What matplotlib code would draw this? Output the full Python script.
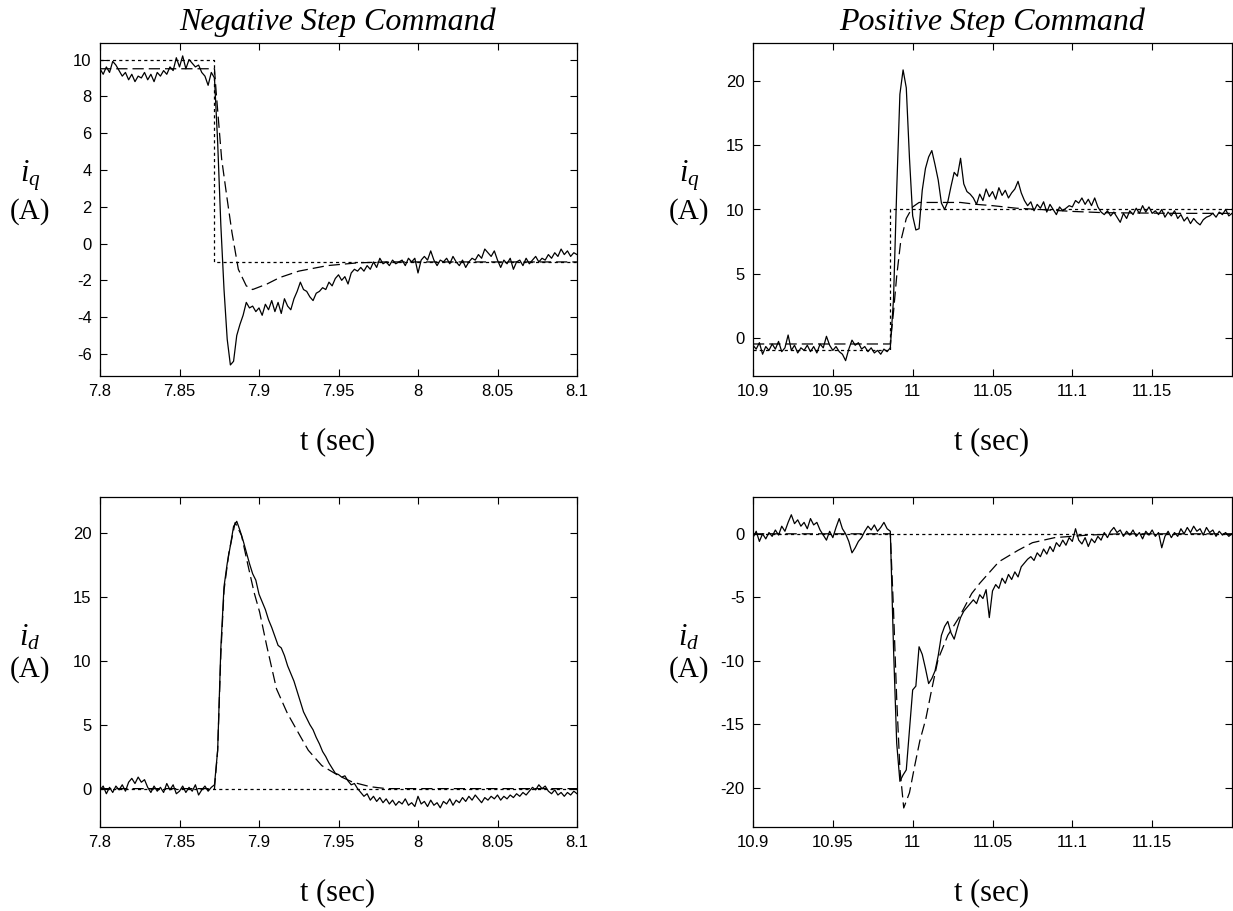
import numpy as np
import matplotlib
matplotlib.use("Agg")
import matplotlib.pyplot as plt

plt.rcParams["font.family"] = ["Liberation Sans", "DejaVu Sans"]
plt.rcParams["mathtext.fontset"] = "custom"
plt.rcParams["mathtext.rm"] = "Liberation Serif"
plt.rcParams["mathtext.it"] = "Liberation Serif:italic"

W, H = 1233, 911
DT = 0.002  # sample spacing of the measured traces (s)

# ---- negative step command (t = 7.8 ... 8.1) ----
neg_t0 = 7.8
neg_iq_meas = [
    9.5, 9.2, 9.6, 9.3, 9.9, 9.7, 9.4, 9.1, 9.3, 8.9,
    9.2, 8.8, 9.1, 9.0, 9.3, 8.9, 9.2, 8.8, 9.3, 9.1,
    9.4, 9.2, 9.6, 9.4, 10.1, 9.6, 10.2, 9.5, 10.0, 9.8,
    9.6, 9.7, 9.3, 9.1, 8.6, 9.3, 9.0, 5.5, 1.0, -2.5,
    -5.2, -6.6, -6.4, -5.0, -4.4, -3.9, -3.2, -3.5, -3.4, -3.7,
    -3.5, -3.9, -3.3, -3.6, -3.1, -3.7, -3.2, -3.8, -3.0, -3.4,
    -3.6, -3.0, -2.6, -2.1, -2.5, -2.6, -2.9, -3.1, -2.7, -2.6,
    -2.4, -2.5, -2.1, -2.3, -1.9, -1.7, -2.0, -1.8, -2.2, -1.6,
    -1.4, -1.5, -1.3, -1.5, -1.2, -1.4, -1.0, -1.3, -0.8, -1.1,
    -1.0, -1.2, -0.9, -1.1, -1.0, -0.9, -1.2, -0.8, -1.0, -0.8,
    -1.6, -0.9, -0.7, -0.9, -0.4, -0.9, -1.2, -0.9, -1.0, -0.8,
    -1.1, -0.7, -1.0, -1.2, -0.9, -1.3, -1.0, -0.8, -0.9, -0.6,
    -0.8, -0.3, -0.5, -0.7, -0.4, -0.9, -1.3, -0.9, -1.1, -0.8,
    -1.4, -1.0, -0.9, -1.2, -0.8, -1.1, -0.9, -0.7, -1.0, -0.8,
    -0.9, -0.6, -0.8, -0.5, -0.7, -0.3, -0.6, -0.4, -0.7, -0.5,
    -0.6,
]
neg_iq_cmd_t = [7.8, 7.872, 7.872, 8.1]
neg_iq_cmd = [10, 10, -1, -1]
neg_iq_model_t = [7.8, 7.872, 7.873, 7.8765, 7.880, 7.883, 7.887, 7.892, 7.896,
                  7.905, 7.913, 7.925, 7.943, 7.962, 7.98, 8.1]
neg_iq_model = [9.5, 9.5, 8.3, 4.6, 2.4, 0.6, -1.4, -2.3, -2.5,
                -2.2, -1.85, -1.5, -1.2, -1.05, -1.0, -1.0]

neg_id_meas = [
    -0.1, 0.2, -0.4, 0.1, -0.3, 0.2, -0.1, 0.3, -0.2, 0.5,
    0.8, 0.4, 0.9, 0.5, 0.7, 0.1, -0.3, 0.2, -0.2, 0.1,
    -0.3, 0.4, -0.1, 0.3, -0.4, -0.2, 0.2, -0.3, 0.1, -0.2,
    0.3, -0.5, -0.1, 0.2, -0.2, 0.1, 0.3, 3.0, 11.0, 15.8,
    17.6, 19.0, 20.5, 20.9, 20.2, 19.4, 18.5, 17.6, 16.8, 16.3,
    15.2, 14.6, 14.0, 13.2, 12.6, 11.9, 11.2, 11.0, 10.4, 9.6,
    9.0, 8.4, 7.6, 6.8, 6.0, 5.5, 5.0, 4.6, 4.0, 3.5,
    2.9, 2.5, 2.0, 1.6, 1.2, 1.1, 0.9, 1.0, 0.6, 0.3,
    0.4, 0.0, -0.3, -0.6, -0.4, -0.9, -0.6, -1.0, -0.7, -1.1,
    -0.8, -1.2, -0.9, -1.3, -1.0, -1.2, -0.8, -1.3, -1.1, -1.4,
    -0.6, -1.2, -1.0, -1.4, -0.9, -1.3, -1.1, -1.5, -1.0, -1.2,
    -0.8, -1.3, -0.9, -1.1, -0.7, -1.0, -0.6, -0.9, -0.5, -0.8,
    -1.1, -0.7, -0.9, -0.6, -0.8, -0.5, -0.9, -0.6, -0.8, -0.5,
    -0.7, -0.4, -0.6, -0.3, -0.5, -0.2, 0.1, -0.1, 0.3, 0.0,
    0.2, -0.2, -0.4, -0.1, -0.5, -0.3, -0.6, -0.3, -0.5, -0.2,
    -0.4,
]
neg_id_cmd_t = [7.8, 8.1]
neg_id_cmd = [0, 0]
neg_id_model_t = [7.8, 7.872, 7.874, 7.876, 7.878, 7.881, 7.885, 7.889, 7.893,
                  7.897, 7.9004, 7.9048, 7.911, 7.9178, 7.9264, 7.931, 7.9395,
                  7.9503, 7.959, 7.97, 7.98, 8.1]
neg_id_model = [0, 0, 3.0, 10.5, 15.5, 18.4, 20.8, 19.8, 17.5,
                15.3, 13.8, 11.2, 7.8, 5.9, 4.0, 3.0, 1.8,
                1.0, 0.5, 0.15, 0.0, 0.0]

# ---- positive step command (t = 10.9 ... 11.2) ----
pos_t0 = 10.9
pos_iq_meas = [
    -0.6, -0.9, -0.4, -1.3, -0.7, -1.0, -0.5, -0.9, -0.3, -1.1,
    -0.8, 0.2, -1.0, -0.6, -1.2, -0.8, -1.0, -0.6, -1.1, -0.7,
    -1.2, -0.5, -0.8, 0.1, -0.6, -1.0, -0.7, -1.1, -1.3, -1.8,
    -0.9, -0.2, -0.6, -0.4, -0.9, -0.7, -1.1, -0.8, -1.2, -1.0,
    -1.3, -0.9, -1.1, -0.8, 3.0, 11.5, 19.0, 20.9, 19.5, 14.0,
    9.5, 8.4, 8.5, 11.5, 13.2, 14.1, 14.6, 13.5, 12.3, 10.5,
    10.0, 10.6, 11.8, 12.9, 12.6, 14.0, 12.0, 11.4, 11.2, 10.9,
    10.4, 11.2, 10.7, 11.6, 11.0, 11.4, 10.8, 11.7, 11.1, 11.5,
    10.9, 11.3, 11.6, 12.2, 11.3, 10.7, 10.3, 10.6, 9.9, 10.4,
    10.1, 10.6, 9.8, 10.4, 10.0, 9.6, 10.2, 9.9, 10.1, 10.3,
    10.2, 10.7, 10.5, 10.9, 10.4, 10.8, 10.3, 10.9, 10.2, 9.8,
    9.6, 9.9, 9.5, 9.8, 9.4, 9.0, 9.7, 9.3, 9.9, 9.6,
    10.1, 9.7, 10.3, 9.8, 10.2, 9.7, 9.9, 9.6, 10.0, 9.4,
    9.8, 9.5, 9.9, 9.3, 9.6, 9.1, 9.4, 8.9, 9.3, 9.0,
    8.8, 9.2, 9.4, 9.5, 9.7, 9.4, 9.8, 9.6, 10.0, 9.5,
    9.7,
]
pos_iq_cmd_t = [10.9, 10.986, 10.986, 11.2]
pos_iq_cmd = [-1, -1, 10, 10]
pos_iq_model_t = [10.9, 10.986, 10.987, 10.988, 10.990, 10.9925, 10.996, 11.0,
                  11.004, 11.03, 11.04, 11.05, 11.065, 11.08, 11.1, 11.12,
                  11.165, 11.2]
pos_iq_model = [-0.5, -0.5, 0.8, 2.0, 4.8, 7.5, 9.3, 10.2,
                10.55, 10.55, 10.4, 10.3, 10.1, 10.0, 9.85, 9.75,
                9.7, 9.7]

pos_id_meas = [
    -0.3, 0.2, -0.6, 0.0, -0.4, 0.1, -0.2, 0.3, -0.1, 0.6,
    0.2, 0.9, 1.5, 0.8, 1.1, 0.6, 0.9, 0.4, 1.2, 0.7,
    0.9, 0.3, -0.1, -0.5, 0.2, -0.3, 0.5, 1.2, 0.4, 0.0,
    -0.6, -1.5, -1.1, -0.6, -0.3, 0.2, 0.6, 0.3, 0.7, 0.2,
    0.5, 0.9, 0.4, 0.2, -9.0, -16.5, -19.5, -19.0, -18.6, -15.5,
    -12.3, -12.0, -8.9, -9.5, -10.6, -11.8, -11.4, -10.8, -9.6, -8.0,
    -7.3, -6.9, -7.8, -8.3, -7.4, -6.6, -6.1, -5.8, -5.5, -5.2,
    -5.5, -4.8, -5.1, -4.4, -6.6, -4.5, -4.0, -4.3, -3.5, -3.9,
    -3.2, -3.6, -3.0, -3.4, -2.6, -2.3, -2.0, -1.8, -2.1, -1.5,
    -1.8, -1.2, -1.6, -1.0, -1.4, -0.7, -1.0, -0.5, -0.9, -0.3,
    -0.6, 0.4, -0.5, -0.8, -0.3, -1.0, -0.4, -0.7, -0.2, -0.5,
    0.1, -0.3, 0.2, 0.5, 0.1, 0.3, -0.2, 0.2, -0.1, 0.3,
    -0.2, 0.1, -0.4, 0.2, -0.1, 0.3, -0.2, 0.1, -1.1, -0.2,
    0.2, -0.3, 0.1, -0.2, 0.4, 0.0, 0.5, 0.1, 0.6, 0.2,
    0.4, -0.1, 0.5, 0.1, 0.3, -0.2, 0.2, -0.1, 0.1, -0.2,
    0.0,
]
pos_id_cmd_t = [10.9, 11.2]
pos_id_cmd = [0, 0]
pos_id_model_t = [10.9, 10.986, 10.988, 10.990, 10.992, 10.9944, 10.998, 11.0014,
                  11.0045, 11.0082, 11.0117, 11.0159, 11.022, 11.029, 11.037,
                  11.042, 11.054, 11.066, 11.075, 11.089, 11.11, 11.13, 11.2]
pos_id_model = [0, 0, -6.0, -13.0, -18.5, -21.6, -20.4, -18.2,
                -16.3, -14.6, -12.4, -9.9, -8.0, -6.6, -4.7,
                -3.9, -2.2, -1.3, -0.7, -0.3, -0.1, 0.0, 0.0]

neg_xticks = [7.8, 7.85, 7.9, 7.95, 8.0, 8.05, 8.1]
neg_xlabels = ["7.8", "7.85", "7.9", "7.95", "8", "8.05", "8.1"]
pos_xticks = [10.9, 10.95, 11.0, 11.05, 11.1, 11.15]
pos_xlabels = ["10.9", "10.95", "11", "11.05", "11.1", "11.15"]


def px_axes(fig, left, top, right, bottom):
    return fig.add_axes([left / W, 1 - bottom / H, (right - left) / W, (bottom - top) / H])


def draw_panel(ax, t0, meas, cmd_t, cmd, mod_t, mod, xlim, xticks, xlabels, ylim, yticks):
    tm = t0 + DT * np.arange(len(meas))
    ax.plot(cmd_t, cmd, color="k", lw=0.9, linestyle=(0, (2.5, 2.5)))
    ax.plot(mod_t, mod, color="k", lw=0.9, linestyle=(0, (9, 4)))
    ax.plot(tm, meas, color="k", lw=0.9)
    ax.set_xlim(*xlim)
    ax.set_ylim(*ylim)
    ax.set_xticks(xticks)
    ax.set_xticklabels(xlabels)
    ax.set_yticks(yticks)
    ax.set_yticklabels([f"{v:g}" for v in yticks])
    ax.tick_params(direction="in", top=True, right=True, length=5, width=0.8,
                   labelsize=12, pad=6, colors="k")
    for s in ax.spines.values():
        s.set_linewidth(0.9)


fig = plt.figure(figsize=(W / 100, H / 100), dpi=100)

ax_tl = px_axes(fig, 100, 43, 577, 376)
draw_panel(ax_tl, neg_t0, neg_iq_meas, neg_iq_cmd_t, neg_iq_cmd, neg_iq_model_t, neg_iq_model,
           (7.8, 8.1), neg_xticks, neg_xlabels, (-7.2, 10.9), [-6, -4, -2, 0, 2, 4, 6, 8, 10])

ax_tr = px_axes(fig, 753, 43, 1232, 376)
draw_panel(ax_tr, pos_t0, pos_iq_meas, pos_iq_cmd_t, pos_iq_cmd, pos_iq_model_t, pos_iq_model,
           (10.9, 11.2), pos_xticks, pos_xlabels, (-3.0, 23.0), [0, 5, 10, 15, 20])

ax_bl = px_axes(fig, 100, 497, 577, 827)
draw_panel(ax_bl, neg_t0, neg_id_meas, neg_id_cmd_t, neg_id_cmd, neg_id_model_t, neg_id_model,
           (7.8, 8.1), neg_xticks, neg_xlabels, (-3.0, 22.8), [0, 5, 10, 15, 20])

ax_br = px_axes(fig, 753, 497, 1232, 827)
draw_panel(ax_br, pos_t0, pos_id_meas, pos_id_cmd_t, pos_id_cmd, pos_id_model_t, pos_id_model,
           (10.9, 11.2), pos_xticks, pos_xlabels, (-23.1, 2.9), [-20, -15, -10, -5, 0])

serif = ["Liberation Serif", "DejaVu Serif"]


def ftext(x, y, s, **kw):
    fig.text(x / W, 1 - y / H, s, ha="center", **kw)


ftext(338, 30, "Negative Step Command", va="baseline", fontsize=23, family=serif, style="italic")
ftext(992, 30, "Positive Step Command", va="baseline", fontsize=23, family=serif, style="italic")

for xc, yc in [(338, 442), (992, 442), (338, 893), (992, 893)]:
    ftext(xc, yc, "t (sec)", va="center", fontsize=22, family=serif)

for xl, y1, y2, lab in [(30, 176, 212, r"$i_q$"), (689, 176, 212, r"$i_q$"),
                        (30, 637, 670, r"$i_d$"), (689, 637, 670, r"$i_d$")]:
    ftext(xl, y1, lab, va="center", fontsize=22)
    ftext(xl, y2, "(A)", va="center", fontsize=21, family=serif)

fig.savefig("out.png", dpi=100)
